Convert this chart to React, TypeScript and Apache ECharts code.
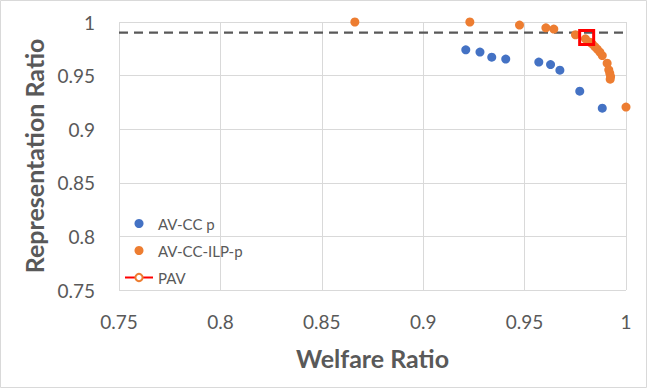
import React, { useEffect, useRef } from "react";
import * as echarts from "echarts";

const xTicks = { min: 0.75, max: 1, interval: 0.05 };
const yTicks = { min: 0.75, max: 1, interval: 0.05 };

const avccWelfare = [0.921, 0.928, 0.9338, 0.9407, 0.957, 0.9628, 0.9674, 0.9772, 0.9883];
const avccRep = [0.974, 0.9719, 0.9672, 0.9654, 0.9626, 0.9603, 0.9551, 0.9355, 0.9196];

const ilpWelfare = [
  0.8663, 0.923, 0.9475, 0.9605, 0.9644, 0.9751, 0.98, 0.9822, 0.9833, 0.9846,
  0.9858, 0.9871, 0.9883, 0.9907, 0.9915, 0.992, 0.9924, 0.9922, 1.0,
];
const ilpRep = [
  1.0, 1.0, 0.9971, 0.9946, 0.9934, 0.9881, 0.9843, 0.9812, 0.9796, 0.9771,
  0.9747, 0.9719, 0.9687, 0.9616, 0.9554, 0.9523, 0.9491, 0.9467, 0.9206,
];

const pavWelfare = [0.9806];
const pavRep = [0.9855];

const thresholdX = [0.75, 1.0];
const thresholdY = [0.99, 0.99];

const seriesNames = ["AV-CC p", "AV-CC-ILP-p", "PAV"];
const xName = "Welfare Ratio";
const yName = "Representation Ratio";

const zip = (a: number[], b: number[]) => a.map((v, i) => [v, b[i]]);

export default function App() {
  const ref = useRef<HTMLDivElement>(null);
  useEffect(() => {
    if (!ref.current) return;
    const chart = echarts.init(ref.current, undefined, { renderer: "svg" });
    const txt = "#595959";
    const font = "Lato";
    chart.setOption({
      animation: false,
      backgroundColor: "#ffffff",
      textStyle: { fontFamily: font },
      graphic: [
        {
          type: "rect",
          shape: { x: 0.5, y: 0.5, width: 646, height: 387 },
          style: { fill: "none", stroke: "#d9d9d9", lineWidth: 1 },
          silent: true,
        },
      ],
      grid: { left: 119, top: 22, width: 507, height: 268 },
      xAxis: {
        type: "value",
        min: xTicks.min,
        max: xTicks.max,
        interval: xTicks.interval,
        name: xName,
        nameLocation: "middle",
        nameGap: 55,
        nameTextStyle: { fontSize: 25, fontWeight: "bold", color: txt, fontFamily: font },
        axisLine: { show: false },
        axisTick: { show: false },
        axisLabel: { fontSize: 19, color: txt, margin: 22, fontFamily: font },
        splitLine: { show: true, lineStyle: { color: "#d9d9d9", width: 1 } },
      },
      yAxis: {
        type: "value",
        min: yTicks.min,
        max: yTicks.max,
        interval: yTicks.interval,
        name: yName,
        nameLocation: "middle",
        nameGap: 72,
        nameTextStyle: { fontSize: 25, fontWeight: "bold", color: txt, fontFamily: font },
        axisLine: { show: false },
        axisTick: { show: false },
        axisLabel: { fontSize: 19, color: txt, margin: 24, fontFamily: font },
        splitLine: { show: true, lineStyle: { color: "#d9d9d9", width: 1 } },
      },
      legend: {
        orient: "vertical",
        left: 124,
        top: 216,
        padding: 0,
        itemWidth: 28,
        itemHeight: 9,
        itemGap: 12,
        textStyle: { fontSize: 15, color: txt, fontFamily: font },
        data: seriesNames,
      },
      series: [
        {
          type: "line",
          name: "threshold",
          data: zip(thresholdX, thresholdY),
          symbol: "none",
          silent: true,
          lineStyle: { color: "#595959", width: 2.25, type: [9, 6] },
          z: 1,
        },
        {
          type: "scatter",
          name: seriesNames[0],
          data: zip(avccWelfare, avccRep),
          symbol: "circle",
          symbolSize: 9,
          itemStyle: { color: "#4472C4", opacity: 1 },
          z: 2,
        },
        {
          type: "scatter",
          name: seriesNames[1],
          data: zip(ilpWelfare, ilpRep),
          symbol: "circle",
          symbolSize: 9,
          itemStyle: { color: "#ED7D31", opacity: 1 },
          z: 3,
        },
        {
          type: "line",
          name: seriesNames[2],
          symbol: "emptyCircle",
          symbolSize: 6,
          itemStyle: { color: "#ED7D31" },
          lineStyle: { color: "#FF0000", width: 3 },
          data: zip(pavWelfare, pavRep).map((v) => ({
            value: v,
            symbol: "rect",
            symbolSize: 14,
            itemStyle: { color: "rgba(0,0,0,0)", borderColor: "#FF0000", borderWidth: 3 },
          })),
          z: 4,
        },
      ],
    });
    return () => chart.dispose();
  }, []);
  return (
    <div
      ref={ref}
      style={{ position: "absolute", left: 0, top: 0, width: 647, height: 388 }}
    />
  );
}
